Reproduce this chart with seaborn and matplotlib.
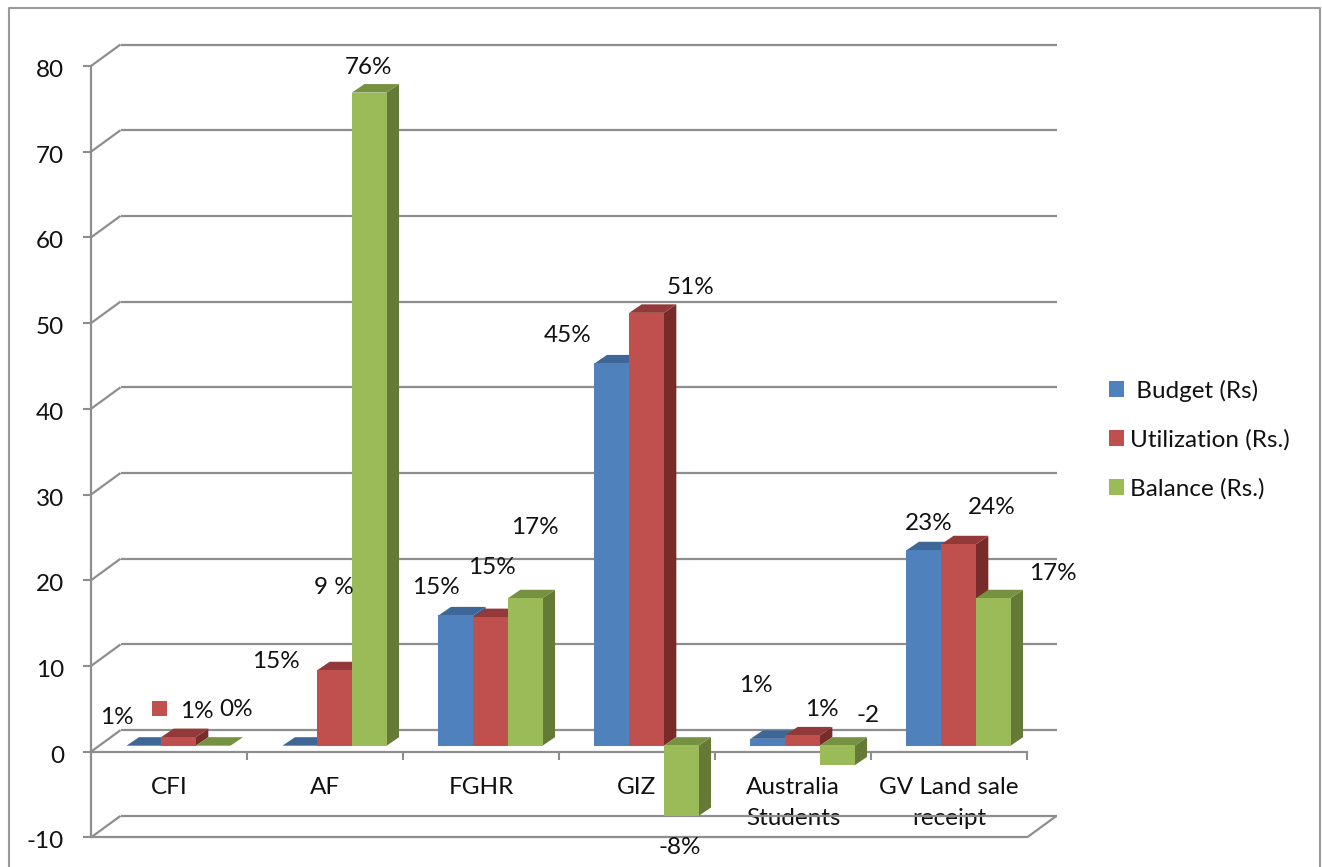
import pandas as pd
import matplotlib
matplotlib.use("Agg")
import matplotlib.pyplot as plt
import seaborn as sns
from matplotlib.lines import Line2D
from matplotlib.patches import Polygon, Rectangle
from matplotlib.transforms import ScaledTranslation

sns.set_style("white")
plt.rcParams["font.family"] = ["Lato", "DejaVu Sans"]
plt.rcParams["axes.unicode_minus"] = False

W, H = 1322, 867

# data
projects = ["CFI", "AF", "FGHR", "GIZ", "Australia\nStudents", "GV Land sale\nreceipt"]
budget = [0, 0, 15.2, 44.6, 0.8, 22.8]
utilization = [1, 8.8, 15, 50.5, 1.2, 23.5]
balance = [0, 76.2, 17.2, -8.2, -2.3, 17.2]
series_names = [" Budget (Rs)", "Utilization (Rs.)", "Balance (Rs.)"]
y_ticks = [-10, 0, 10, 20, 30, 40, 50, 60, 70, 80]

budget_labels = ["1%", "15%", "15%", "45%", "1%", "23%"]
utilization_labels = ["1%", "9 %", "15%", "51%", "1%", "24%"]
balance_labels = ["0%", "76%", "17%", "-8%", "-2", "17%"]

# label centres in pixels, they sit loosely around the bars in the original
budget_label_pos = [(117, 717), (276, 661), (436, 587), (568, 335), (756, 686), (929, 524)]
utilization_label_pos = [(197, 711), (334, 588), (492, 567), (691, 288), (822, 709), (992, 508)]
balance_label_pos = [(236, 710), (368, 68), (535, 527), (680, 847), (868, 716), (1053, 574)]

face_colors = ["#4F81BD", "#C0504D", "#9BBB59"]
top_colors = ["#3E6797", "#93393A", "#769240"]
side_colors = ["#385D8A", "#772C2A", "#647A36"]
grid_color = "#8E8E8E"
border_color = "#9A9A9A"
text_color = "#111111"
font_size = 17.5


def fx(x):
    return x / W


def fy(y):
    return 1 - y / H


df = pd.DataFrame({
    "project": projects * 3,
    "series": [s for s in series_names for _ in projects],
    "value": budget + utilization + balance,
})

fig = plt.figure(figsize=(W / 100, H / 100), dpi=100)

# front plane with axis, ticks and the wall grid
left, right, top, bottom = 91, 1027, 66, 837.4
ax = fig.add_axes([fx(left), fy(bottom), (right - left) / W, (bottom - top) / H])
ax.set_xlim(-0.5, 5.5)
ax.set_ylim(-10, 80)
ax.patch.set_alpha(0)
sns.despine(ax=ax, top=True, right=True)
for side in ["left", "bottom"]:
    ax.spines[side].set_color(grid_color)
    ax.spines[side].set_linewidth(1.6)
ax.spines["bottom"].set_position(("data", 0))

x_per_px = 6 / (right - left)
y_per_px = 90 / (bottom - top)
wall_dx, wall_dy = 29.5 * x_per_px, 21.5 * y_per_px

line_kw = dict(color=grid_color, lw=1.6, clip_on=False, solid_capstyle="butt", zorder=1)
for v in y_ticks:
    ax.plot([-0.5, -0.5 + wall_dx], [v, v + wall_dy], **line_kw)
    ax.plot([-0.5 + wall_dx, 5.5 + wall_dx], [v + wall_dy, v + wall_dy], **line_kw)
ax.plot([-0.5, 5.5], [-10, -10], **line_kw)
ax.plot([5.5, 5.5 + wall_dx], [-10, -10 + wall_dy], **line_kw)

ax.set_yticks(y_ticks)
ax.set_xticks(range(len(projects)))
ax.set_xticks([i + 0.5 for i in range(-1, 6)], minor=True)
ax.set_xticklabels(projects, linespacing=1.58, color=text_color, fontsize=font_size)
ax.tick_params(axis="x", which="major", length=0, pad=18.5)
ax.tick_params(axis="x", which="minor", length=5.5, width=1.5, color=grid_color, bottom=True)
ax.tick_params(axis="y", length=6, width=1.5, color=grid_color, labelsize=font_size,
               labelcolor=text_color, pad=13.5, left=True)
ax.set_xlabel("")
ax.set_ylabel("")
# tick numbers sit slightly under their ticks in the original
nudge = ScaledTranslation(0, -2.5 / 72 * 72 / 100, fig.dpi_scale_trans)
for label in ax.get_yticklabels():
    label.set_transform(label.get_transform() + nudge)

# bars sit a little behind the front plane
plane_dx, plane_dy = 9.5, 6
ax_bars = fig.add_axes([fx(left + plane_dx), fy(bottom - plane_dy),
                        (right - left) / W, (bottom - top) / H])
ax_bars.patch.set_alpha(0)
sns.barplot(data=df, x="project", y="value", hue="series", hue_order=series_names,
            palette=face_colors, saturation=1, width=0.667, gap=0, linewidth=0, ax=ax_bars)
ax_bars.set_xlim(-0.5, 5.5)
ax_bars.set_ylim(-10, 80)
ax_bars.set_axis_off()

depth_x, depth_y = 12.5 * x_per_px, 8.5 * y_per_px
for i, container in enumerate(ax_bars.containers):
    for bar in container:
        x0 = bar.get_x()
        x1 = x0 + bar.get_width()
        y0, y1 = sorted([bar.get_y(), bar.get_y() + bar.get_height()])
        z = 3 + 2 * i
        bar.set_zorder(z + 1)
        ax_bars.add_patch(Polygon([(x1, y0), (x1 + depth_x, y0 + depth_y),
                                   (x1 + depth_x, y1 + depth_y), (x1, y1)],
                                  closed=True, fc=side_colors[i], ec="none", zorder=z, clip_on=False))
        ax_bars.add_patch(Polygon([(x0, y1), (x1, y1), (x1 + depth_x, y1 + depth_y),
                                   (x0 + depth_x, y1 + depth_y)],
                                  closed=True, fc=top_colors[i], ec="none", zorder=z, clip_on=False))

# legend on the right
handles, labels = ax_bars.get_legend_handles_labels()
ax_bars.legend(handles, labels, loc="center left", bbox_transform=fig.transFigure,
               bbox_to_anchor=(fx(1109), fy(439.5)), frameon=False, fontsize=font_size,
               handlelength=0.62, handleheight=0.62, handletextpad=0.25, labelspacing=1.13,
               labelcolor=text_color, borderpad=0, borderaxespad=0)

# data labels
for labels_, positions in [(budget_labels, budget_label_pos),
                           (utilization_labels, utilization_label_pos),
                           (balance_labels, balance_label_pos)]:
    for text, (x, y) in zip(labels_, positions):
        fig.text(fx(x), fy(y), text, ha="center", va="center", fontsize=font_size,
                 color=text_color, zorder=10)

# stray red key left beside the first label in the original
fig.add_artist(Rectangle((fx(152), fy(716)), 15 / W, 15 / H, transform=fig.transFigure,
                         fc=face_colors[1], ec="none"))

# outer chart border, runs off the bottom of the image
border_x = [fx(9), fx(9), fx(1320), fx(1320)]
border_y = [fy(867), fy(8), fy(8), fy(867)]
fig.add_artist(Line2D(border_x, border_y, color=border_color, lw=1.5,
                      transform=fig.transFigure))

fig.savefig("out.png", dpi=100, facecolor="white")
